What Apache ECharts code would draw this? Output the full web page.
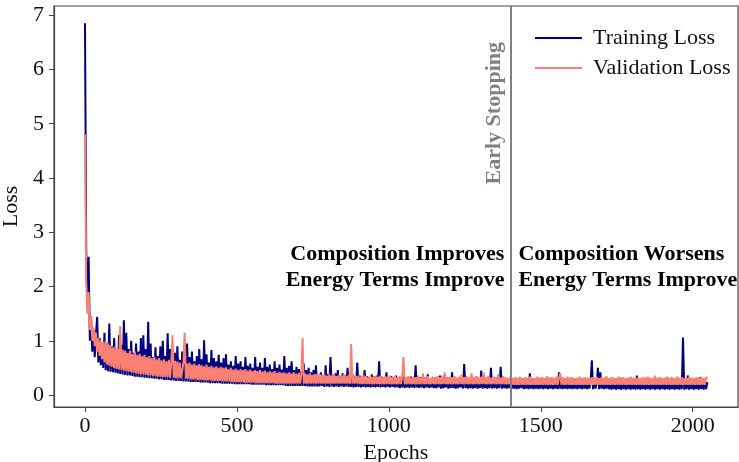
<!DOCTYPE html>
<html>
<head>
<meta charset="utf-8">
<script src="https://cdn.jsdelivr.net/npm/echarts@6/dist/echarts.min.js"></script>
<style>html,body{margin:0;padding:0;background:#fff}#c{width:739px;height:462px}</style>
</head>
<body>
<div id="c"></div>
<script>
const EPOCH_STEP = 4;
const xTicks = [0, 500, 1000, 1500, 2000];
const yTicks = [0, 1, 2, 3, 4, 5, 6, 7];
const earlyStoppingEpoch = 1400;
const seriesNames = ['Training Loss', 'Validation Loss'];

const trainingLoss = [
  6.85, 2.7, 1.6, 2.55, 1.0, 1.45, 0.8, 1.2, 0.7, 1.1, 1.44, 0.6, 1.05, 0.55, 0.95, 0.5,
  1.15, 0.46, 0.95, 0.44, 1.32, 0.43, 0.9, 0.42, 1.05, 0.41, 0.8, 0.4, 1.1, 0.39, 0.92, 0.38,
  1.38, 0.37, 1.15, 0.36, 0.85, 0.36, 1.0, 0.35, 0.78, 0.34, 0.95, 0.34, 0.8, 0.33, 1.05, 0.33,
  1.1, 0.32, 0.85, 0.32, 1.35, 0.31, 0.95, 0.31, 0.7, 0.3, 0.88, 0.3, 0.72, 0.29, 0.9, 0.29,
  1.0, 0.28, 0.72, 0.28, 1.14, 0.28, 0.85, 0.27, 0.66, 0.27, 0.78, 0.26, 0.9, 0.26, 0.65, 0.26,
  0.8, 0.25, 0.68, 0.25, 0.95, 0.25, 0.7, 0.24, 0.8, 0.24, 0.62, 0.24, 0.72, 0.24, 0.85, 0.23,
  0.66, 0.23, 1.01, 0.23, 0.75, 0.23, 0.6, 0.22, 0.83, 0.22, 0.68, 0.22, 0.62, 0.22, 0.74, 0.22,
  0.6, 0.21, 0.68, 0.21, 0.75, 0.21, 0.56, 0.21, 0.62, 0.21, 0.54, 0.2, 0.72, 0.2, 0.58, 0.2,
  0.62, 0.2, 0.52, 0.2, 0.7, 0.2, 0.54, 0.2, 0.58, 0.19, 0.5, 0.19, 0.7, 0.19, 0.52, 0.19,
  0.6, 0.19, 0.5, 0.19, 0.68, 0.18, 0.52, 0.18, 0.56, 0.18, 0.48, 0.18, 0.62, 0.18, 0.5, 0.18,
  0.56, 0.18, 0.47, 0.18, 0.72, 0.17, 0.5, 0.17, 0.54, 0.17, 0.62, 0.17, 0.46, 0.17, 0.52, 0.17,
  0.48, 0.17, 0.44, 0.17, 0.58, 0.17, 0.46, 0.16, 0.5, 0.16, 0.42, 0.16, 0.46, 0.16, 0.55, 0.16,
  0.34, 0.16, 0.42, 0.17, 0.36, 0.15, 0.55, 0.16, 0.38, 0.15, 0.7, 0.16, 0.36, 0.15, 0.4, 0.16,
  0.46, 0.15, 0.35, 0.16, 0.4, 0.15, 0.36, 0.16, 0.5, 0.15, 0.34, 0.15, 0.38, 0.14, 0.35, 0.15,
  0.6, 0.15, 0.36, 0.14, 0.34, 0.15, 0.46, 0.14, 0.35, 0.15, 0.33, 0.14, 0.38, 0.15, 0.34, 0.14,
  0.36, 0.15, 0.62, 0.14, 0.34, 0.15, 0.32, 0.14, 0.42, 0.15, 0.33, 0.14, 0.35, 0.15, 0.32, 0.14,
  0.36, 0.14, 0.3, 0.13, 0.32, 0.14, 0.42, 0.13, 0.3, 0.14, 0.29, 0.13, 0.34, 0.14, 0.3, 0.13,
  0.55, 0.14, 0.3, 0.13, 0.33, 0.14, 0.29, 0.13, 0.31, 0.14, 0.38, 0.13, 0.29, 0.14, 0.3, 0.13,
  0.32, 0.13, 0.29, 0.14, 0.36, 0.12, 0.28, 0.13, 0.3, 0.14, 0.32, 0.12, 0.28, 0.13, 0.42, 0.13,
  0.3, 0.12, 0.28, 0.13, 0.31, 0.14, 0.29, 0.12, 0.57, 0.13, 0.3, 0.12, 0.28, 0.13, 0.32, 0.12,
  0.29, 0.13, 0.34, 0.12, 0.28, 0.13, 0.45, 0.12, 0.29, 0.13, 0.3, 0.12, 0.28, 0.13, 0.5, 0.12,
  0.29, 0.13, 0.31, 0.12, 0.28, 0.13, 0.52, 0.12, 0.29, 0.13, 0.27, 0.12, 0.3, 0.13, 0.28, 0.12,
  0.26, 0.12, 0.28, 0.11, 0.25, 0.12, 0.27, 0.13, 0.3, 0.11, 0.26, 0.12, 0.28, 0.11, 0.4, 0.12,
  0.27, 0.11, 0.25, 0.12, 0.28, 0.11, 0.26, 0.12, 0.33, 0.11, 0.25, 0.12, 0.27, 0.11, 0.26, 0.12,
  0.28, 0.11, 0.25, 0.12, 0.27, 0.11, 0.42, 0.12, 0.26, 0.11, 0.24, 0.12, 0.28, 0.11, 0.25, 0.12,
  0.27, 0.11, 0.25, 0.12, 0.29, 0.11, 0.26, 0.12, 0.24, 0.11, 0.27, 0.12, 0.25, 0.11, 0.28, 0.12,
  0.26, 0.64, 0.11, 0.27, 0.12, 0.25, 0.5, 0.11, 0.42, 0.12, 0.26, 0.11, 0.24, 0.12, 0.27, 0.11,
  0.25, 0.1, 0.28, 0.11, 0.24, 0.1, 0.26, 0.11, 0.25, 0.1, 0.27, 0.11, 0.24, 0.1, 0.26, 0.11,
  0.25, 0.1, 0.27, 0.11, 0.24, 0.1, 0.36, 0.11, 0.25, 0.1, 0.26, 0.11, 0.24, 0.1, 0.27, 0.11,
  0.25, 0.1, 0.24, 0.11, 0.28, 0.1, 0.26, 0.11, 0.24, 0.1, 0.3, 0.11, 0.25, 0.1, 0.26, 0.11,
  0.24, 0.1, 0.27, 0.11, 0.25, 0.1, 0.26, 0.11, 0.28, 0.1, 0.24, 0.11, 1.06, 0.1, 0.25, 0.11,
  0.36, 0.1, 0.25, 0.11, 0.27, 0.1, 0.24, 0.11, 0.26, 0.1, 0.33, 0.11, 0.25, 0.1, 0.27, 0.11,
  0.24
];

const validationLoss = [
  4.8, 2.1, 1.5, 1.9, 1.2, 1.45, 1.0, 1.25, 0.9, 1.15, 0.8, 1.05, 0.72, 1.0, 0.66, 0.98,
  0.6, 1.0, 0.56, 0.95, 0.54, 0.92, 0.52, 0.88, 0.5, 0.9, 0.48, 0.85, 0.47, 1.27, 0.46, 0.84,
  0.45, 0.82, 0.44, 0.78, 0.43, 0.82, 0.42, 0.76, 0.41, 0.8, 0.4, 0.74, 0.39, 0.76, 0.38, 0.72,
  0.38, 0.74, 0.37, 0.7, 0.36, 0.72, 0.36, 0.68, 0.35, 0.7, 0.35, 0.66, 0.34, 0.68, 0.34, 0.64,
  0.33, 0.66, 0.33, 0.62, 0.33, 0.65, 0.32, 0.6, 1.1, 0.32, 0.63, 0.31, 0.62, 0.31, 0.6, 0.31,
  0.31, 0.6, 1.15, 0.3, 0.58, 0.3, 0.6, 0.29, 0.56, 0.29, 0.58, 0.29, 0.55, 0.28, 0.57, 0.28,
  0.55, 0.28, 0.53, 0.27, 0.56, 0.27, 0.52, 0.27, 0.54, 0.26, 0.51, 0.26, 0.53, 0.26, 0.5, 0.26,
  0.52, 0.25, 0.5, 0.25, 0.51, 0.25, 0.48, 0.25, 0.5, 0.24, 0.47, 0.24, 0.49, 0.24, 0.46, 0.24,
  0.48, 0.24, 0.46, 0.23, 0.48, 0.23, 0.45, 0.23, 0.47, 0.23, 0.44, 0.23, 0.46, 0.22, 0.44, 0.22,
  0.46, 0.22, 0.43, 0.22, 0.45, 0.22, 0.42, 0.22, 0.44, 0.22, 0.42, 0.22, 0.44, 0.21, 0.41, 0.21,
  0.43, 0.21, 0.41, 0.21, 0.42, 0.21, 0.4, 0.21, 0.42, 0.21, 0.4, 0.21, 0.42, 0.21, 0.39, 0.21,
  0.41, 0.21, 0.39, 1.05, 0.21, 0.4, 0.21, 0.38, 0.21, 0.4, 0.21, 0.37, 0.21, 0.39, 0.21, 0.38,
  0.21, 0.39, 0.21, 0.37, 0.21, 0.38, 0.21, 0.36, 0.21, 0.38, 0.21, 0.36, 0.21, 0.38, 0.21, 0.35,
  0.21, 0.37, 0.21, 0.36, 0.21, 0.38, 0.21, 0.35, 0.21, 0.37, 0.21, 0.94, 0.21, 0.36, 0.21, 0.35,
  0.21, 0.36, 0.2, 0.34, 0.2, 0.37, 0.2, 0.35, 0.2, 0.34, 0.2, 0.36, 0.2, 0.33, 0.2, 0.35,
  0.2, 0.34, 0.2, 0.36, 0.2, 0.33, 0.2, 0.35, 0.2, 0.34, 0.2, 0.36, 0.2, 0.33, 0.2, 0.35,
  0.2, 0.33, 0.2, 0.35, 0.2, 0.34, 0.7, 0.2, 0.33, 0.2, 0.35, 0.2, 0.32, 0.2, 0.34, 0.2,
  0.33, 0.2, 0.36, 0.2, 0.32, 0.2, 0.4, 0.2, 0.33, 0.2, 0.35, 0.2, 0.31, 0.2, 0.34, 0.2,
  0.32, 0.2, 0.35, 0.2, 0.33, 0.2, 0.36, 0.2, 0.42, 0.2, 0.32, 0.2, 0.34, 0.2, 0.33, 0.2,
  0.35, 0.2, 0.32, 0.2, 0.34, 0.2, 0.38, 0.2, 0.33, 0.2, 0.35, 0.2, 0.32, 0.2, 0.4, 0.2,
  0.33, 0.2, 0.35, 0.2, 0.32, 0.2, 0.34, 0.2, 0.42, 0.2, 0.33, 0.2, 0.36, 0.2, 0.32, 0.2,
  0.34, 0.2, 0.33, 0.2, 0.38, 0.2, 0.32, 0.2, 0.35, 0.2, 0.33, 0.2, 0.31, 0.2, 0.34, 0.19,
  0.31, 0.19, 0.33, 0.19, 0.32, 0.19, 0.34, 0.19, 0.31, 0.19, 0.33, 0.19, 0.32, 0.19, 0.34, 0.19,
  0.32, 0.19, 0.31, 0.19, 0.34, 0.19, 0.32, 0.19, 0.33, 0.19, 0.31, 0.19, 0.35, 0.19, 0.32, 0.19,
  0.33, 0.19, 0.31, 0.19, 0.34, 0.19, 0.32, 0.4, 0.19, 0.33, 0.19, 0.31, 0.19, 0.34, 0.19, 0.32,
  0.19, 0.33, 0.19, 0.31, 0.19, 0.32, 0.19, 0.34, 0.19, 0.31, 0.19, 0.33, 0.19, 0.32, 0.19, 0.31,
  0.19, 0.33, 0.19, 0.32, 0.19, 0.34, 0.19, 0.31, 0.19, 0.33, 0.19, 0.32, 0.19, 0.35, 0.19, 0.31,
  0.19, 0.33, 0.19, 0.32, 0.19, 0.31, 0.19, 0.34, 0.19, 0.32, 0.19, 0.33, 0.19, 0.31, 0.19, 0.32,
  0.19, 0.34, 0.19, 0.31, 0.19, 0.33, 0.19, 0.32, 0.19, 0.31, 0.19, 0.33, 0.19, 0.32, 0.19, 0.34,
  0.19, 0.32, 0.19, 0.31, 0.19, 0.36, 0.19, 0.32, 0.19, 0.33, 0.19, 0.31, 0.19, 0.32, 0.19, 0.34,
  0.19, 0.32, 0.19, 0.33, 0.19, 0.31, 0.19, 0.34, 0.19, 0.32, 0.19, 0.33, 0.19, 0.31, 0.19, 0.32,
  0.19, 0.34, 0.19, 0.32, 0.19, 0.31, 0.19, 0.33, 0.19, 0.32, 0.19, 0.34, 0.19, 0.31, 0.19, 0.33,
  0.3
];

const leftNote = 'Composition Improves\nEnergy Terms Improve';
const rightNote = 'Composition Worsens\nEnergy Terms Improve';

// ---- chart ----
const FONT = '"Liberation Serif", "DejaVu Serif", serif';
const chart = echarts.init(document.getElementById('c'), null, {renderer: 'canvas'});
const pairs = arr => arr.map((v, i) => [i * EPOCH_STEP, v]);

const option = {
  animation: false,
  backgroundColor: '#fff',
  grid: {left: 54, right: 1, top: 6, bottom: 55, containLabel: false, outerBoundsMode: 'none',
         show: true, borderColor: '#444', borderWidth: 1.2, backgroundColor: 'transparent'},
  legend: {
    data: seriesNames,
    orient: 'vertical', left: 530, top: 22,
    itemWidth: 47, itemHeight: 14, itemGap: 8,
    icon: 'path://M0,6 L47,6 L47,8 L0,8 Z',
    textStyle: {fontFamily: FONT, fontSize: 22, color: '#111', padding: [0, 0, 0, 6]}
  },
  xAxis: {
    type: 'value', min: -102, max: 2149,
    name: 'Epochs', nameLocation: 'middle', nameGap: 34,
    nameTextStyle: {fontFamily: FONT, fontSize: 22, color: '#111'},
    axisLine: {show: true, onZero: false, lineStyle: {color: '#444', width: 1.2}},
    axisTick: {show: true, length: 5, lineStyle: {color: '#444'}, customValues: xTicks},
    axisLabel: {fontFamily: FONT, fontSize: 22, color: '#111', margin: 8, customValues: xTicks,
                formatter: v => String(v)},
    splitLine: {show: false}
  },
  yAxis: {
    type: 'value', min: -0.22, max: 7.17,
    name: 'Loss', nameLocation: 'middle', nameGap: 26,
    nameTextStyle: {fontFamily: FONT, fontSize: 22, color: '#111'},
    axisLine: {show: true, onZero: false, lineStyle: {color: '#444', width: 1.2}},
    axisTick: {show: true, length: 5, lineStyle: {color: '#444'}, customValues: yTicks},
    axisLabel: {fontFamily: FONT, fontSize: 22, color: '#111', margin: 10, customValues: yTicks,
                formatter: v => String(v)},
    splitLine: {show: false}
  },
  series: [
    {
      name: seriesNames[0], type: 'line', data: pairs(trainingLoss),
      showSymbol: false, symbol: 'none', color: '#000080',
      lineStyle: {color: '#000080', width: 2}, z: 2,
      markLine: {
        silent: true, symbol: 'none',
        lineStyle: {color: '#808080', width: 2, type: 'solid'},
        label: {show: false},
        data: [{xAxis: earlyStoppingEpoch}]
      }
    },
    {
      name: seriesNames[1], type: 'line', data: pairs(validationLoss),
      showSymbol: false, symbol: 'none', color: '#FA8072',
      lineStyle: {color: '#FA8072', width: 2}, z: 3
    }
  ]
};
chart.setOption(option);

const xs = chart.convertToPixel({xAxisIndex: 0}, earlyStoppingEpoch);
const yTop = chart.convertToPixel({yAxisIndex: 0}, 7.17);
chart.setOption({
  graphic: [
    {
      type: 'text', x: xs - 16, y: yTop + 36, rotation: Math.PI / 2,
      style: {text: 'Early Stopping', fontFamily: FONT, fontWeight: 'bold', fontSize: 22, fill: '#808080', align: 'right', verticalAlign: 'middle'}
    },
    {
      type: 'text', x: xs - 6, y: 241,
      style: {text: leftNote, fontFamily: FONT, fontWeight: 'bold', fontSize: 22, lineHeight: 26, fill: '#000', align: 'right', verticalAlign: 'top'}
    },
    {
      type: 'text', x: xs + 8, y: 241,
      style: {text: rightNote, fontFamily: FONT, fontWeight: 'bold', fontSize: 22, lineHeight: 26, fill: '#000', align: 'left', verticalAlign: 'top'}
    }
  ]
});
</script>
</body>
</html>
